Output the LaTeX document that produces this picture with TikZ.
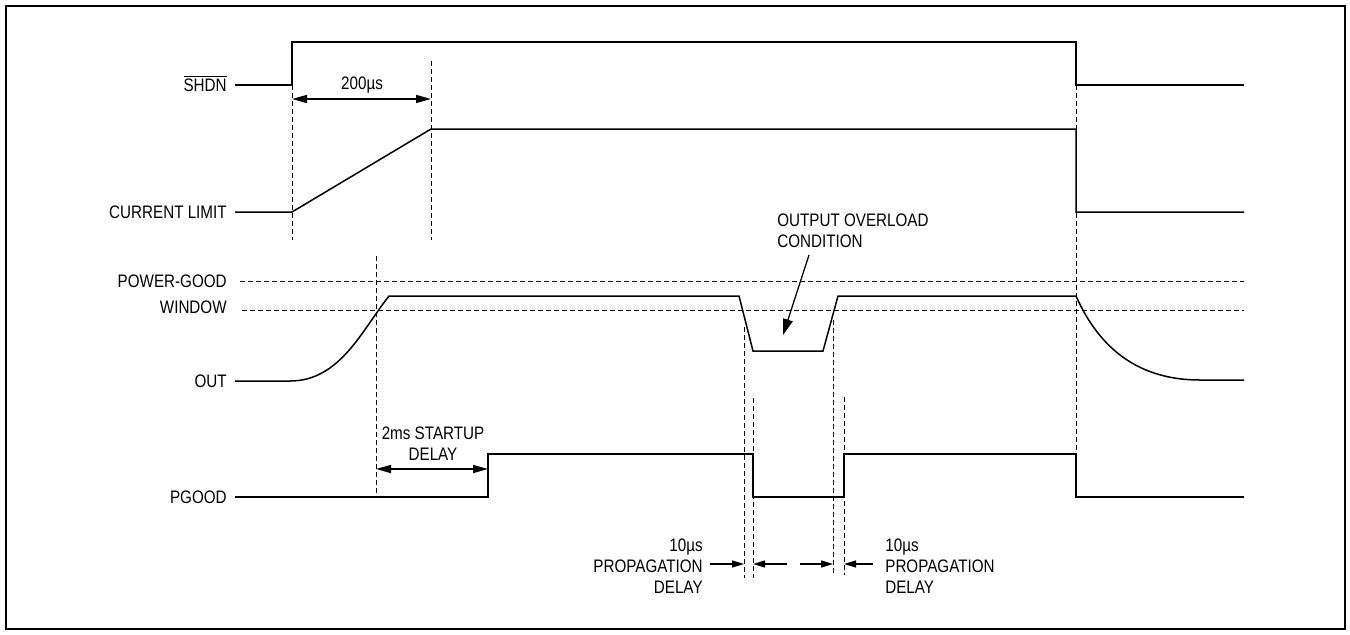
\documentclass[tikz,border=0pt]{standalone}
\usepackage{fontspec}
\setmainfont{Liberation Sans}[FakeStretch=0.84]
\usetikzlibrary{arrows.meta}

\begin{document}
\begin{tikzpicture}[
    x=0.2mm, y=-0.2mm,
    >={Triangle[length=3mm,width=1.6mm]},
    font=\fontsize{10.3}{11.9}\selectfont,
    sig/.style   ={line width=0.3mm, line join=miter},
    guide/.style ={line width=0.2mm, dash pattern=on 0.9mm off 0.7mm},
    lbl/.style   ={inner sep=0pt, anchor=base east},
    note/.style  ={inner sep=0pt},
    dim/.style   ={<->, line width=0.3mm},
    prop/.style  ={->, line width=0.25mm, >={Triangle[length=2.4mm,width=1.4mm]}}
]

\useasboundingbox (0,0) rectangle (1350,634);
\draw[line width=0.5mm] (6,6) rectangle (1345,629);

% Signal names
\node[lbl] (shdn) at (227,91.5)  {$\overline{\mbox{SHDN}}$};
\node[lbl] (ilim) at (227,218.5) {CURRENT LIMIT};
\node[lbl] (pgw1) at (227,287.5) {POWER-GOOD};
\node[lbl] (pgw2) at (227,313.5) {WINDOW};
\node[lbl] (out)  at (227,387.5) {OUT};
\node[lbl] (pgd)  at (227,503.5) {PGOOD};

% --- Waveforms ---
\draw[sig] (235,85) -- (292,85) -- (292,42) -- (1076,42) -- (1076,85) -- (1244,85);
\draw[sig] (235,212) -- (292,212) -- (431,129) -- (1076,129) -- (1076,212) -- (1244,212);
\draw[sig] (235,381) -- (290,381) .. controls (340,381) and (362,330) .. (389,296)
    -- (739,296) -- (753,351) -- (823,351) -- (838,296) -- (1076,296)
    .. controls (1100,350) and (1140,380) .. (1200,380) -- (1244,380);
\draw[sig] (235,497) -- (488,497) -- (488,454) -- (753,454) -- (753,497)
    -- (844,497) -- (844,454) -- (1076,454) -- (1076,497) -- (1244,497);

% Power-good window
\draw[guide] (240,281) -- (1244,281);
\draw[guide] (242,310) -- (1244,310);

% Timing guides
\draw[guide] (292,85) -- (292,240);
\draw[guide] (431,61) -- (431,240);
\draw[guide] (376,256) -- (376,497);
\draw[guide] (1076,85) -- (1076,454);
\draw[guide] (744,327) -- (744,578);
\draw[guide] (753,398) -- (753,578);
\draw[guide] (833,320) -- (833,575);
\draw[guide] (844,397) -- (844,575);

% --- Delays ---
\draw[dim] (292,99) -- (431,99);
\node[note, anchor=base] (tramp) at (362,89.5) {200µs};
\draw[dim] (376,469) -- (488,469);
\node[note, align=center] (tstart) at (433,443.5) {2ms STARTUP\\DELAY};

% Overload note
\node[note, align=left, anchor=west] (ovl) at (777,230.5) {OUTPUT OVERLOAD\\CONDITION};
\draw[->, line width=0.25mm, >={Triangle[length=3.2mm,width=2mm]}] (809,255) -- (783,335);

% Propagation delays
\node[note, align=right, anchor=east] (pdl) at (703,566.5) {10µs\\PROPAGATION\\DELAY};
\draw[prop] (710,564) -- (744,564);
\draw[prop] (787,564) -- (753,564);
\draw[prop] (800,564) -- (833,564);
\draw[prop] (873,564) -- (844,564);
\node[note, align=left, anchor=west] (pdr) at (885,566.5) {10µs\\PROPAGATION\\DELAY};

\end{tikzpicture}
\end{document}
